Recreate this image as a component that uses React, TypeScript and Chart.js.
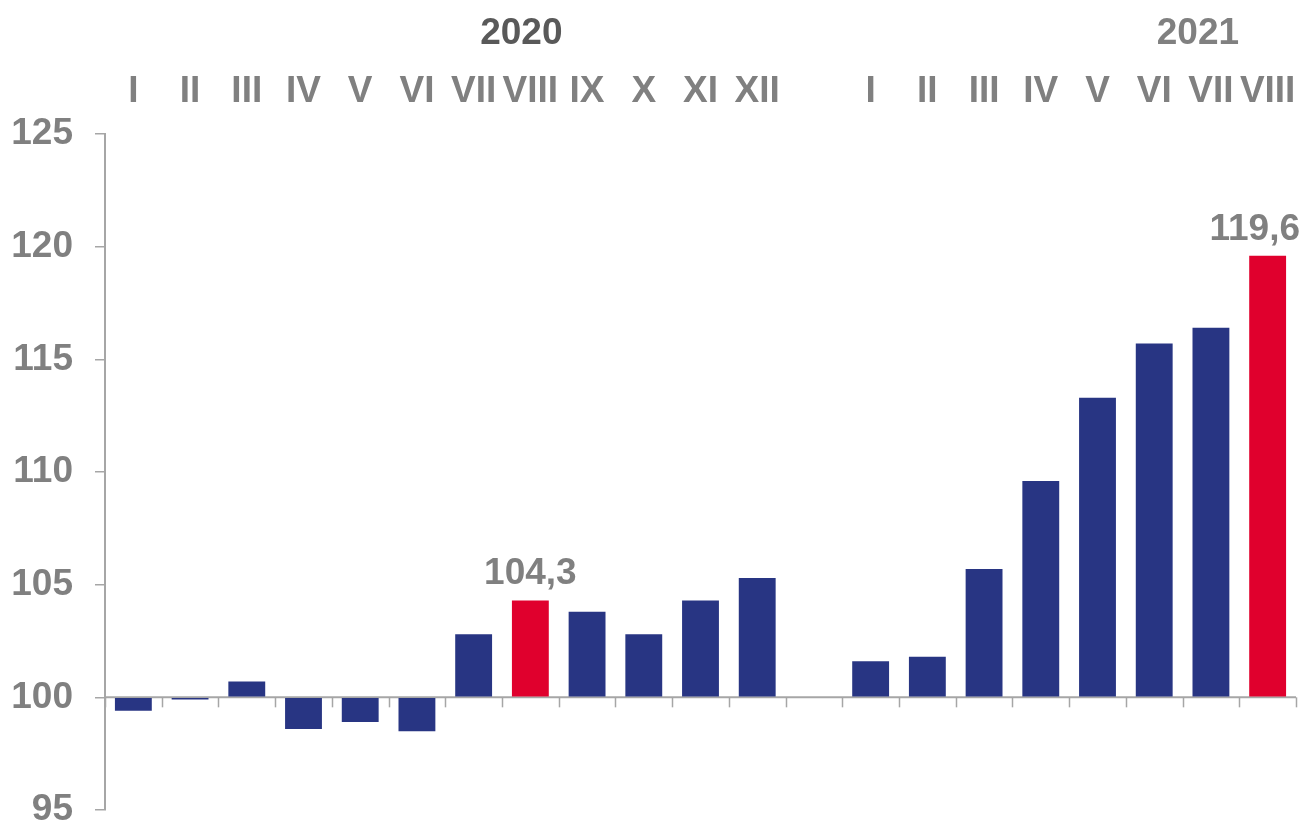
import React, { useEffect, useRef } from "react";
import { Chart, registerables } from "chart.js";

Chart.register(...registerables);

const monthLabels = ["I", "II", "III", "IV", "V", "VI", "VII", "VIII", "IX", "X", "XI", "XII", "", "I", "II", "III", "IV", "V", "VI", "VII", "VIII"];
const indexValues: (number | null)[] = [99.4, 99.9, 100.7, 98.6, 98.9, 98.5, 102.8, 104.3, 103.8, 102.8, 104.3, 105.3, null, 101.6, 101.8, 105.7, 109.6, 113.3, 115.7, 116.4, 119.6];
const highlighted = [7, 20];
const valueLabels = ["104,3", "119,6"];
const yearLabels = ["2020", "2021"];
const yearAnchors = [7, 19];
const yearOffsets = [-9, -13];
const yearColors = ["#595959", "#808080"];
const yTicks = [95, 100, 105, 110, 115, 120, 125];

const NAVY = "#283583";
const RED = "#E0002D";
const GREY_TEXT = "#808080";
const AXIS = "#A6A6A6";
const FONT = "'Liberation Sans', Arial, sans-serif";

export default function App() {
  const ref = useRef<HTMLCanvasElement | null>(null);

  useEffect(() => {
    document.body.style.margin = "0";
    const canvas = ref.current;
    if (!canvas) return;

    const decor = {
      id: "decor",
      beforeDatasetsDraw(chart: any) {
        const { ctx, chartArea, scales } = chart;
        const x = scales.x;
        const y = scales.y;
        const y100 = y.getPixelForValue(100);
        ctx.save();
        ctx.strokeStyle = AXIS;
        ctx.lineWidth = 2;
        ctx.beginPath();
        ctx.moveTo(chartArea.left, y100);
        ctx.lineTo(chartArea.right, y100);
        ctx.stroke();
        ctx.lineWidth = 1.5;
        const n = monthLabels.length;
        const step = (chartArea.right - chartArea.left) / n;
        for (let i = 0; i <= n; i++) {
          const px = Math.round(x.getPixelForValue(0) - step / 2 + i * step) + 0.5;
          ctx.beginPath();
          ctx.moveTo(px, y100);
          ctx.lineTo(px, y100 + 10);
          ctx.stroke();
        }
        ctx.restore();
      },
      afterDatasetsDraw(chart: any) {
        const { ctx, scales } = chart;
        const x = scales.x;
        const y = scales.y;
        ctx.save();
        ctx.font = `bold 37px ${FONT}`;
        ctx.textBaseline = "alphabetic";
        ctx.fillStyle = GREY_TEXT;
        highlighted.forEach((idx, k) => {
          const v = indexValues[idx] as number;
          const text = valueLabels[k];
          const w = ctx.measureText(text).width;
          let cx = x.getPixelForValue(idx);
          if (cx + w / 2 > chart.width - 4) cx = chart.width - 4 - w / 2;
          ctx.textAlign = "center";
          ctx.fillText(text, cx, y.getPixelForValue(v) - 16);
        });
        yearLabels.forEach((t, k) => {
          ctx.fillStyle = yearColors[k];
          ctx.textAlign = "center";
          ctx.fillText(t, x.getPixelForValue(yearAnchors[k]) + yearOffsets[k], 44);
        });
        ctx.restore();
      },
    };

    const chart = new Chart(canvas, {
      type: "bar",
      data: {
        labels: monthLabels,
        datasets: [
          {
            data: indexValues,
            base: 100,
            backgroundColor: indexValues.map((_, i) => (highlighted.includes(i) ? RED : NAVY)),
            borderWidth: 0,
            categoryPercentage: 1,
            barPercentage: 0.65,
          } as any,
        ],
      },
      options: {
        animation: false,
        responsive: false,
        maintainAspectRatio: false,
        layout: { padding: { left: 0, right: 8, top: 0, bottom: 15 } },
        plugins: { legend: { display: false }, tooltip: { enabled: false } },
        scales: {
          x: {
            position: "top",
            grid: { display: false, drawTicks: false },
            border: { display: false },
            ticks: {
              color: GREY_TEXT,
              font: { family: FONT, size: 37, weight: "bold" },
              padding: 20,
              maxRotation: 0,
              autoSkip: false,
            },
            afterFit(scale: any) {
              scale.height = 134;
              scale.paddingLeft = 0;
              scale.paddingRight = 0;
            },
          },
          y: {
            min: 95,
            max: 125,
            afterBuildTicks(scale: any) {
              scale.ticks = yTicks.map((v) => ({ value: v }));
            },
            grid: { drawOnChartArea: false, drawTicks: true, tickLength: 10, color: AXIS, lineWidth: 1.5 },
            border: { display: true, color: AXIS, width: 2 },
            ticks: {
              color: GREY_TEXT,
              font: { family: FONT, size: 37, weight: "bold" },
              padding: 22,
            },
            afterFit(scale: any) {
              scale.width = 105;
              scale.paddingTop = 0;
              scale.paddingBottom = 0;
            },
          },
        },
      },
      plugins: [decor],
    } as any);

    return () => chart.destroy();
  }, []);

  return (
    <div style={{ width: 1304, height: 825, position: "relative" }}>
      <canvas ref={ref} width={1304} height={825} style={{ width: 1304, height: 825, display: "block" }} />
    </div>
  );
}
